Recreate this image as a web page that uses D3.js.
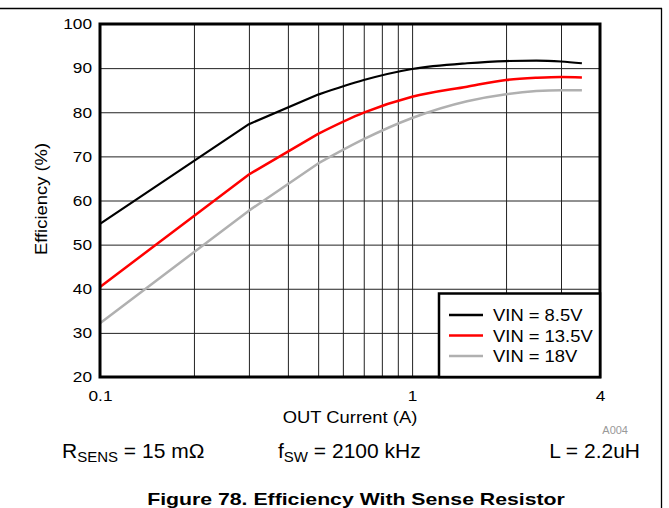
<!DOCTYPE html>
<html>
<head>
<meta charset="utf-8">
<script src="https://cdn.jsdelivr.net/npm/d3@7"></script>
<style>
  html, body { margin: 0; padding: 0; background: #fff; }
  svg { display: block; font-family: "Liberation Sans", Arial, sans-serif; }
</style>
</head>
<body>
<svg id="chart" width="669" height="508"></svg>
<script>
// ---- data ----
const current = [0.1, 0.3, 0.5, 0.7, 1.0, 1.5, 2.0, 2.5, 3.0, 3.5];
const vin85  = [54.7, 77.3, 84.0, 87.3, 89.8, 91.1, 91.6, 91.7, 91.5, 91.1];
const vin135 = [40.4, 65.9, 75.1, 79.9, 83.5, 85.8, 87.3, 87.8, 88.0, 87.9];
const vin18  = [32.2, 57.7, 68.4, 73.9, 78.7, 82.5, 84.1, 84.8, 85.0, 85.0];
const seriesNames = ["VIN = 8.5V", "VIN = 13.5V", "VIN = 18V"];
const seriesColors = ["#000000", "#ff0000", "#b0b0b0"];
const yTicks = [20, 30, 40, 50, 60, 70, 80, 90, 100];
const xTickLabels = [0.1, 1, 4];
const xGrid = [0.2, 0.3, 0.4, 0.5, 0.6, 0.7, 0.8, 0.9, 1, 2, 3];

const svg = d3.select("#chart");
const L = 100, R = 600, T = 24, B = 377;
const x = d3.scaleLog().domain([0.1, 4]).range([L, R]);
const y = d3.scaleLinear().domain([20, 100]).range([B, T]);
const SX = 1.15;

// outer frame
svg.append("line").attr("x1", 0).attr("x2", 662).attr("y1", 8.5).attr("y2", 8.5)
  .attr("stroke", "#000").attr("stroke-width", 1.3);
svg.append("line").attr("x1", 661.5).attr("x2", 661.5).attr("y1", 8).attr("y2", 508)
  .attr("stroke", "#000").attr("stroke-width", 1.3);

// grid via axes
const gx = svg.append("g").attr("transform", `translate(0,${B})`)
  .call(d3.axisBottom(x).tickValues(xGrid).tickSize(-(B - T)).tickFormat(""));
gx.select(".domain").remove();
gx.selectAll(".tick line").attr("stroke", "#222").attr("stroke-width", 1);

const gy = svg.append("g").attr("transform", `translate(${L},0)`)
  .call(d3.axisLeft(y).tickValues(yTicks).tickSize(-(R - L)).tickPadding(8));
gy.select(".domain").remove();
gy.selectAll(".tick line").attr("stroke", "#222").attr("stroke-width", 1);
gy.selectAll(".tick text").attr("font-size", 15).attr("fill", "#000")
  .attr("font-family", "Liberation Sans, Arial, sans-serif")
  .attr("x", -8 / SX).attr("transform", `scale(${SX},1)`);

// x tick labels
const gxl = svg.append("g").attr("transform", `translate(0,${B})`)
  .call(d3.axisBottom(x).tickValues(xTickLabels).tickSize(0).tickPadding(13)
    .tickFormat(d3.format("")));
gxl.select(".domain").remove();
gxl.selectAll(".tick text").attr("font-size", 15).attr("fill", "#000")
  .attr("font-family", "Liberation Sans, Arial, sans-serif")
  .attr("transform", `scale(${SX},1)`);

// lines: straight segments at low current, smooth curve from 0.5 A upward
const pts = s => s.map((v, i) => [current[i], v]);
const lineLin = d3.line().x(d => x(d[0])).y(d => y(d[1])).curve(d3.curveLinear);
const lineSmooth = d3.line().x(d => x(d[0])).y(d => y(d[1])).curve(d3.curveMonotoneX);
const allSeries = [vin85, vin135, vin18];
const widths = [2.2, 2.5, 2.5];
allSeries.forEach((s, k) => {
  const p = pts(s);
  const dPath = lineLin(p.slice(0, 3)) + lineSmooth(p.slice(2)).replace(/^M/, "L");
  svg.append("path").attr("d", dPath).attr("fill", "none")
    .attr("stroke", seriesColors[k]).attr("stroke-width", widths[k])
    .attr("stroke-linejoin", "round");
});

// plot border
svg.append("rect").attr("x", L).attr("y", T).attr("width", R - L).attr("height", B - T)
  .attr("fill", "none").attr("stroke", "#000").attr("stroke-width", 3);

// legend
const lg = svg.append("g");
lg.append("rect").attr("x", 439).attr("y", 293.5).attr("width", 161).attr("height", 83.5)
  .attr("fill", "#fff").attr("stroke", "#000").attr("stroke-width", 2.5);
seriesNames.forEach((n, k) => {
  const yy = 315 + k * 20.5;
  lg.append("line").attr("x1", 449).attr("x2", 483).attr("y1", yy).attr("y2", yy)
    .attr("stroke", seriesColors[k]).attr("stroke-width", 2.5);
  lg.append("text").attr("transform", `translate(493,${yy + 6}) scale(${SX},1)`)
    .attr("font-size", 16).text(n);
});

// axis titles
svg.append("text").attr("transform", `translate(350,423) scale(${SX},1)`)
  .attr("text-anchor", "middle").attr("font-size", 16).text("OUT Current (A)");
svg.append("text").attr("transform", `translate(47,199) rotate(-90) scale(${SX},1)`)
  .attr("text-anchor", "middle").attr("font-size", 16).text("Efficiency (%)");

// A004
svg.append("text").attr("x", 628).attr("y", 434).attr("text-anchor", "end")
  .attr("font-size", 11).attr("fill", "#999").text("A004");

// conditions
const t1 = svg.append("text").attr("x", 62).attr("y", 458).attr("font-size", 21);
t1.append("tspan").text("R");
t1.append("tspan").attr("font-size", 15).attr("dy", 4).text("SENS");
t1.append("tspan").attr("dy", -4).text(" = 15 m\u03A9");
const t2 = svg.append("text").attr("x", 278).attr("y", 458).attr("font-size", 21);
t2.append("tspan").text("f");
t2.append("tspan").attr("font-size", 15).attr("dy", 4).text("SW");
t2.append("tspan").attr("dy", -4).text(" = 2100 kHz");
svg.append("text").attr("x", 640).attr("y", 458).attr("text-anchor", "end")
  .attr("font-size", 21).text("L = 2.2uH");

// title
svg.append("text").attr("transform", `translate(356,505) scale(1.25,1)`)
  .attr("text-anchor", "middle").attr("font-size", 17).attr("font-weight", "bold")
  .text("Figure 78. Efficiency With Sense Resistor");
</script>
</body>
</html>
